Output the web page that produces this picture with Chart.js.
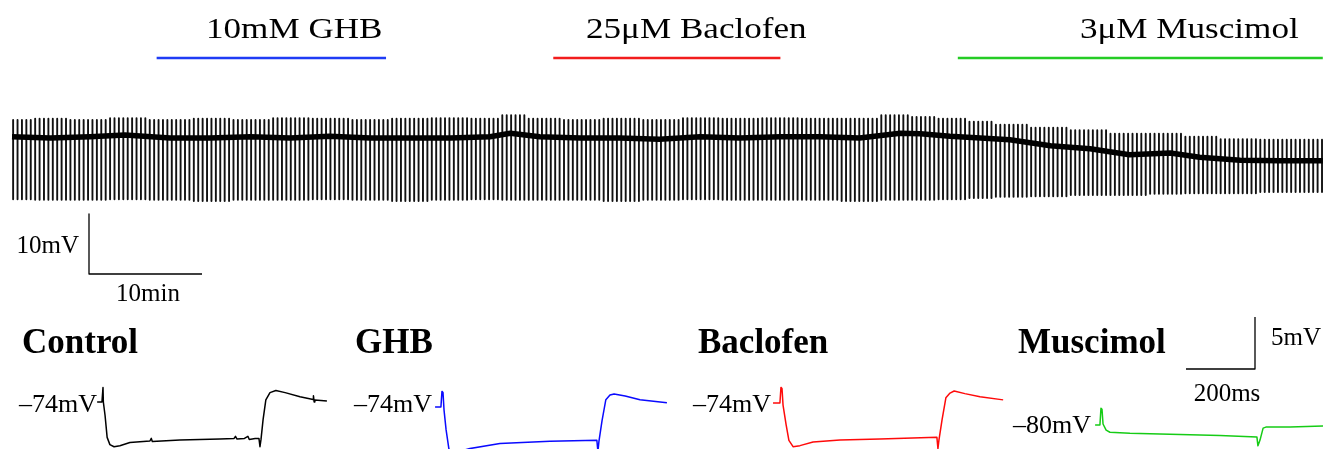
<!DOCTYPE html>
<html>
<head>
<meta charset="utf-8">
<script src="https://cdn.jsdelivr.net/npm/chart.js@4.4.1/dist/chart.umd.min.js"></script>
<style>
  html, body { margin: 0; padding: 0; background: #fff; }
  #wrap { position: relative; width: 1323px; height: 449px; overflow: hidden; }
  canvas { position: absolute; }
</style>
</head>
<body>
<div id="wrap"></div>
<script>
// ---- overview recording (minutes / mV) ----
const sampleMin = [0, 3.4, 6.9, 10.0, 14.0, 17.5, 21.1, 24.6, 28.1, 31.7, 35.2, 38.8, 42.3, 44.1, 46.7, 50.3, 53.8, 57.3,
  60.9, 64.4, 68.0, 71.5, 75.0, 78.6, 80.4, 83.0, 85.7, 88.3, 91.9, 95.4, 98.9, 102.5, 105.1, 108.7, 112.2, 116.0];
const baselineMv = [-73.8, -74.0, -73.8, -73.5, -74.0, -74.0, -73.8, -74.0, -73.7, -74.0, -74.0, -74.0, -73.8, -73.2, -73.8, -74.0, -74.0, -74.2,
  -73.8, -74.0, -73.8, -73.8, -74.0, -73.2, -73.3, -73.7, -74.0, -74.3, -75.3, -75.8, -76.8, -76.5, -77.2, -77.7, -77.8, -77.8];
const troughMv = [-84.2, -84.3, -84.3, -84.2, -84.3, -84.5, -84.3, -84.3, -84.2, -84.3, -84.5, -84.3, -84.2, -84.3, -84.3, -84.3, -84.5, -84.3,
  -84.2, -84.3, -84.3, -84.3, -84.5, -84.3, -84.3, -84.2, -84.0, -83.8, -83.7, -83.5, -83.5, -83.3, -83.2, -83.2, -83.0, -83.0];
const peakMv = [-71.0, -70.8, -71.0, -70.7, -71.0, -70.8, -71.0, -70.7, -70.8, -71.0, -70.8, -70.7, -70.8, -70.2, -70.8, -71.0, -70.8, -71.0,
  -70.7, -70.8, -70.7, -70.8, -70.8, -70.2, -70.5, -70.8, -71.3, -71.8, -72.3, -72.7, -73.3, -73.3, -73.8, -74.2, -74.3, -74.3];
const pulseEveryMin = 0.39; // current step period
const firstPulseMin = 0.1;

const drugNames = ['10mM GHB', '25μM Baclofen', '3μM Muscimol'];
const drugStartMin = [12.8, 47.9, 83.7];
const drugEndMin = [33.1, 68.0, 116.0];
const drugColors = ['#1f3cf5', '#f21d1d', '#25cc25'];

// ---- single responses to the current step (ms / mV) ----
const conditions = ['Control', 'GHB', 'Baclofen', 'Muscimol'];
const restMv = [-74, -74, -74, -80];
const traceColors = ['#000000', '#0a0aff', '#ff0a0a', '#16cc16'];

const ctrlMs = [-17, -3, 0, 1, 6, 12, 20, 32, 49, 78, 136, 140, 143, 223, 339, 380, 384, 388, 410, 420, 424, 441, 452,
  455, 458, 464, 472, 484, 501, 528, 571, 609, 610, 612, 614, 649];
const ctrlMv = [-74.0, -74.0, -72.6, -74.0, -75.3, -77.4, -78.1, -78.3, -78.2, -77.9, -77.75, -77.5, -77.8, -77.65, -77.55, -77.5, -77.3, -77.55, -77.5, -77.3, -77.6, -77.5, -77.5,
  -78.3, -77.6, -75.7, -73.8, -73.1, -72.9, -73.1, -73.5, -73.75, -73.4, -74.0, -73.8, -73.9];
const ghbMs = [-23, -6, -3, 0, 3, 9, 17, 26, 43, 78, 165, 310, 446, 449, 452, 461, 472, 484, 496, 528, 571, 649];
const ghbMv = [-74.0, -74.0, -72.5, -72.6, -74.3, -76.2, -78.0, -78.6, -78.3, -78.0, -77.5, -77.3, -77.2, -78.3, -77.3, -75.3, -73.3, -72.85, -72.75, -72.95, -73.3, -73.6];
const bacMs = [-26, -6, -3, 0, 3, 12, 20, 32, 52, 90, 168, 284, 449, 452, 455, 464, 475, 487, 499, 530, 574, 641];
const bacMv = [-74.0, -74.0, -72.5, -72.6, -74.2, -76.1, -77.6, -78.2, -78.1, -77.75, -77.55, -77.45, -77.3, -78.4, -77.55, -75.6, -73.5, -73.05, -72.85, -73.1, -73.4, -73.7];
const musMs = [-20, -6, -3, 0, 3, 12, 23, 81, 197, 342, 449, 452, 458, 467, 475, 545, 641];
const musMv = [-80.0, -80.0, -78.4, -78.5, -79.9, -80.5, -80.7, -80.8, -80.9, -81.0, -81.15, -82.0, -81.45, -80.3, -80.2, -80.2, -80.1];

const stepMs = [ctrlMs, ghbMs, bacMs, musMs];
const stepMv = [ctrlMv, ghbMv, bacMv, musMv];

// ---- layout (pixels) ----
const SERIF = '"Liberation Serif", "Times New Roman", serif';
const TOP = { width: 1323, height: 310, x0: 12, pxPerMin: 11.3, y0: 138, pxPerMv: 6, refMv: -74 };
const BOT = { top: 310, height: 139, pxPerMs: 0.345, pxPerMv: 10.4 };
const panelLayout = [
  { left: 0, width: 340, onsetX: 103, baseY: 402, nameX: 22, mvRight: 97, mvY: 412 },
  { left: 340, width: 340, onsetX: 443, baseY: 407, nameX: 355, mvRight: 432, mvY: 412 },
  { left: 680, width: 330, onsetX: 782, baseY: 403, nameX: 698, mvRight: 771, mvY: 412 },
  { left: 1010, width: 313, onsetX: 1102, baseY: 425, nameX: 1018, mvRight: 1091, mvY: 433 }
];

const wrap = document.getElementById('wrap');
function addCanvas(left, top, w, h) {
  const c = document.createElement('canvas');
  c.width = w; c.height = h;
  c.style.left = left + 'px'; c.style.top = top + 'px';
  c.style.width = w + 'px'; c.style.height = h + 'px';
  wrap.appendChild(c);
  return c;
}

// text drawn after the traces, canvas pixel coords
function textLayer(items) {
  return {
    id: 'texts',
    afterDatasetsDraw(chart) {
      const ctx = chart.ctx;
      items.forEach(it => {
        ctx.save();
        ctx.font = it.font;
        ctx.fillStyle = '#000';
        ctx.textAlign = it.align || 'left';
        ctx.textBaseline = 'alphabetic';
        ctx.translate(it.x, it.y);
        ctx.scale(it.sx || 1, 1);
        ctx.fillText(it.text, 0, 0);
        ctx.restore();
      });
    }
  };
}

function baseOptions(xmin, xmax, ymin, ymax) {
  return {
    responsive: false,
    animation: false,
    devicePixelRatio: 1,
    layout: { padding: 0 },
    events: [],
    plugins: { legend: { display: false }, tooltip: { enabled: false } },
    elements: { point: { radius: 0 }, line: { tension: 0, borderCapStyle: 'butt', borderJoinStyle: 'round' } },
    scales: {
      x: { type: 'linear', display: false, min: xmin, max: xmax },
      y: { type: 'linear', display: false, min: ymin, max: ymax }
    }
  };
}

// --- 1. OVERVIEW ---
const topMin = px => (px - TOP.x0) / TOP.pxPerMin;
const topMv = py => TOP.refMv - (py - TOP.y0) / TOP.pxPerMv;

function nearestSample(t) {
  let best = 0;
  sampleMin.forEach((s, i) => { if (Math.abs(s - t) < Math.abs(sampleMin[best] - t)) best = i; });
  return best;
}
const pulsePts = [];
for (let t = firstPulseMin; t <= sampleMin[sampleMin.length - 1]; t += pulseEveryMin) {
  const i = nearestSample(t);
  pulsePts.push({ x: t, y: peakMv[i] }, { x: t, y: troughMv[i] }, { x: t, y: null });
}

const barY = topMv(58);
const sbX = topMin(89), sbY = topMv(274);

const topDatasets = [
  { data: sampleMin.map((t, i) => ({ x: t, y: baselineMv[i] })), borderColor: '#000', borderWidth: 5.5 },
  { data: pulsePts, borderColor: '#111', borderWidth: 1.9, spanGaps: false },
  ...drugNames.map((n, i) => ({
    data: [{ x: drugStartMin[i], y: barY }, { x: drugEndMin[i], y: barY }],
    borderColor: drugColors[i], borderWidth: 2.5
  })),
  { data: [{ x: sbX, y: sbY + 10 }, { x: sbX, y: sbY }, { x: sbX + 10, y: sbY }], borderColor: '#000', borderWidth: 1.3 }
];

const drugLabelX = [206, 586, 1080];
const topTexts = drugNames.map((n, i) => ({ text: n, x: drugLabelX[i], y: 38, font: '30px ' + SERIF, sx: 1.17 }));
topTexts.push({ text: '10mV', x: 79, y: 253, font: '25px ' + SERIF, align: 'right' });
topTexts.push({ text: '10min', x: 148, y: 301, font: '25px ' + SERIF, align: 'center' });

const topCanvas = addCanvas(0, 0, TOP.width, TOP.height);
new Chart(topCanvas.getContext('2d'), {
  type: 'line',
  data: { datasets: topDatasets },
  options: baseOptions(topMin(0), topMin(TOP.width), topMv(TOP.height), topMv(0)),
  plugins: [textLayer(topTexts)]
});

// --- 2. STEP RESPONSES ---
panelLayout.forEach((p, k) => {
  const xOf = px => (px - p.onsetX) / BOT.pxPerMs;
  const yOf = py => restMv[k] - (py - p.baseY) / BOT.pxPerMv;
  const datasets = [{
    data: stepMs[k].map((t, i) => ({ x: t, y: stepMv[k][i] })),
    borderColor: traceColors[k], borderWidth: 1.5
  }];
  const texts = [
    { text: conditions[k], x: p.nameX - p.left, y: 353 - BOT.top, font: 'bold 35px ' + SERIF },
    { text: '–' + Math.abs(restMv[k]) + 'mV', x: p.mvRight - p.left, y: p.mvY - BOT.top, font: '26px ' + SERIF, align: 'right' }
  ];
  if (k === panelLayout.length - 1) {
    // 5 mV / 200 ms calibration
    const cx = xOf(1255), cy = yOf(369);
    datasets.push({ data: [{ x: cx - 200, y: cy }, { x: cx, y: cy }, { x: cx, y: cy + 5 }], borderColor: '#000', borderWidth: 1.3 });
    texts.push({ text: '5mV', x: 1271 - p.left, y: 345 - BOT.top, font: '25px ' + SERIF });
    texts.push({ text: '200ms', x: 1227 - p.left, y: 401 - BOT.top, font: '25px ' + SERIF, align: 'center' });
  }
  const c = addCanvas(p.left, BOT.top, p.width, BOT.height);
  new Chart(c.getContext('2d'), {
    type: 'line',
    data: { datasets },
    options: baseOptions(xOf(p.left), xOf(p.left + p.width), yOf(BOT.top + BOT.height), yOf(BOT.top)),
    plugins: [textLayer(texts)]
  });
});
</script>
</body>
</html>
